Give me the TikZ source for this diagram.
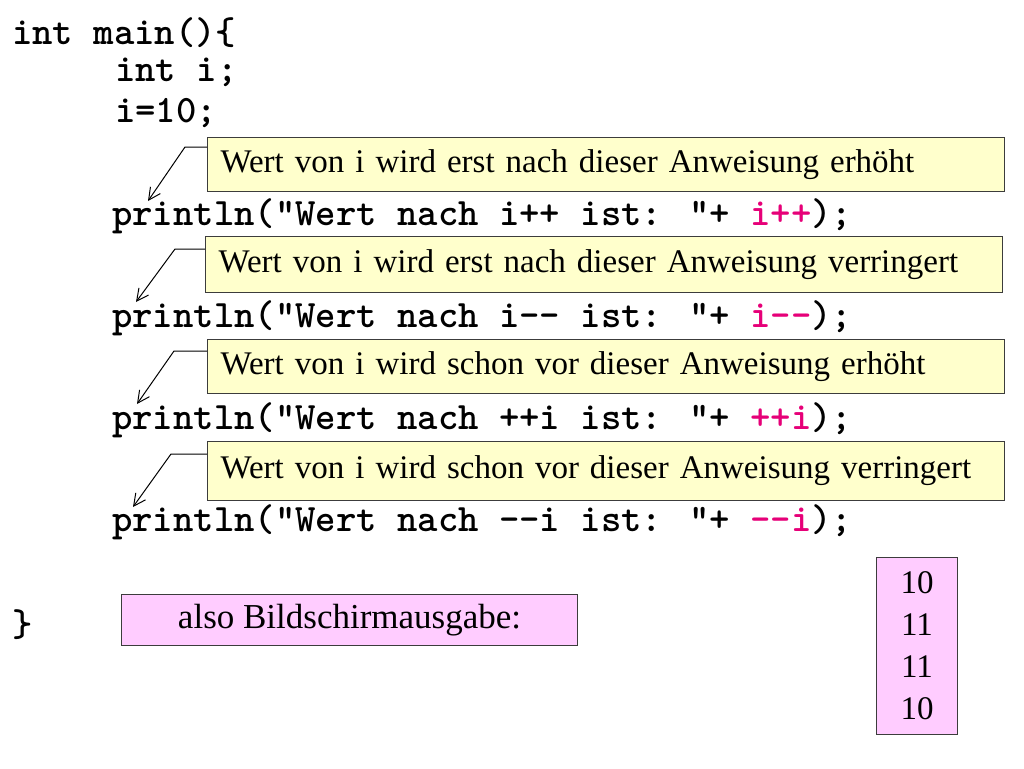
\documentclass[tikz,border=0pt]{standalone}
\usepackage{fontspec}
\setmainfont{Liberation Serif}
\usetikzlibrary{arrows.meta}
\definecolor{hot}{RGB}{230,0,120}
\definecolor{noteyellow}{RGB}{255,255,204}
\definecolor{notepink}{RGB}{255,204,255}
\definecolor{edge}{RGB}{60,60,60}
\tikzset{
  code/.style={anchor=west, inner sep=0pt, font=\ttfamily\bfseries\fontsize{38.8}{42}\selectfont},
  note/.style={draw=edge, line width=1.1pt, fill=noteyellow, anchor=north west,
    minimum height=54pt, text width=771pt, align=left, inner xsep=13pt, inner ysep=0pt,
    font=\fontsize{33}{36}\selectfont},
  outbox/.style={draw=edge, line width=1.1pt, fill=notepink, inner sep=0pt,
    font=\fontsize{34}{36}\selectfont},
  callout/.style={line width=1pt, -{Straight Barb[length=12pt,width=12pt]}},
}
\begin{document}
\begin{tikzpicture}[x=1pt,y=-1pt]
\useasboundingbox (0,0) rectangle (1024,768);
% code
\node[code] (c1) at (12,33) {int main()\{};
\node[code] (c2) at (115,72) {int i;};
\node[code] (c3) at (115,113) {i=10;};
\node[code] (p1) at (112,216) {println("Wert nach i++ ist: "+ \textcolor{hot}{i++});};
\node[code] (p2) at (112,318) {println("Wert nach i-{}- ist: "+ \textcolor{hot}{i-{}-});};
\node[code] (p3) at (112,420) {println("Wert nach ++i ist: "+ \textcolor{hot}{++i});};
\node[code] (p4) at (112,522) {println("Wert nach -{}-i ist: "+ \textcolor{hot}{-{}-i});};
\node[code] (c4) at (12,625) {\}};
% notes
\node[note] (b1) at (207,137) {Wert von i wird erst nach dieser Anweisung erhöht};
\node[note, minimum height=56pt] (b2) at (205,236) {Wert von i wird erst nach dieser Anweisung verringert};
\node[note] (b3) at (207,339) {Wert von i wird schon vor dieser Anweisung erhöht};
\node[note, minimum height=59pt] (b4) at (207,441) {Wert von i wird schon vor dieser Anweisung verringert};
% arrow targets
\coordinate (t1) at (148,201);
\coordinate (t2) at (136,302);
\coordinate (t3) at (137,404);
\coordinate (t4) at (133,507);
\draw[callout] ([yshift=-10pt]b1.north west) -- ++(-22,0) -- (t1);
\draw[callout] ([yshift=-13pt]b2.north west) -- ++(-30,0) -- (t2);
\draw[callout] ([yshift=-12pt]b3.north west) -- ++(-33,0) -- (t3);
\draw[callout] ([yshift=-13pt]b4.north west) -- ++(-36,0) -- (t4);
% output
\node[outbox, minimum width=456pt, minimum height=51pt, anchor=north west, font=\fontsize{35}{36}\selectfont] (also) at (121,594) {also Bildschirmausgabe:};
\node[outbox, minimum width=81pt, minimum height=177pt, anchor=north west, align=center,
  font=\fontsize{33}{42}\selectfont] (res) at (876,557) {10\\11\\11\\10};
\end{tikzpicture}
\end{document}
